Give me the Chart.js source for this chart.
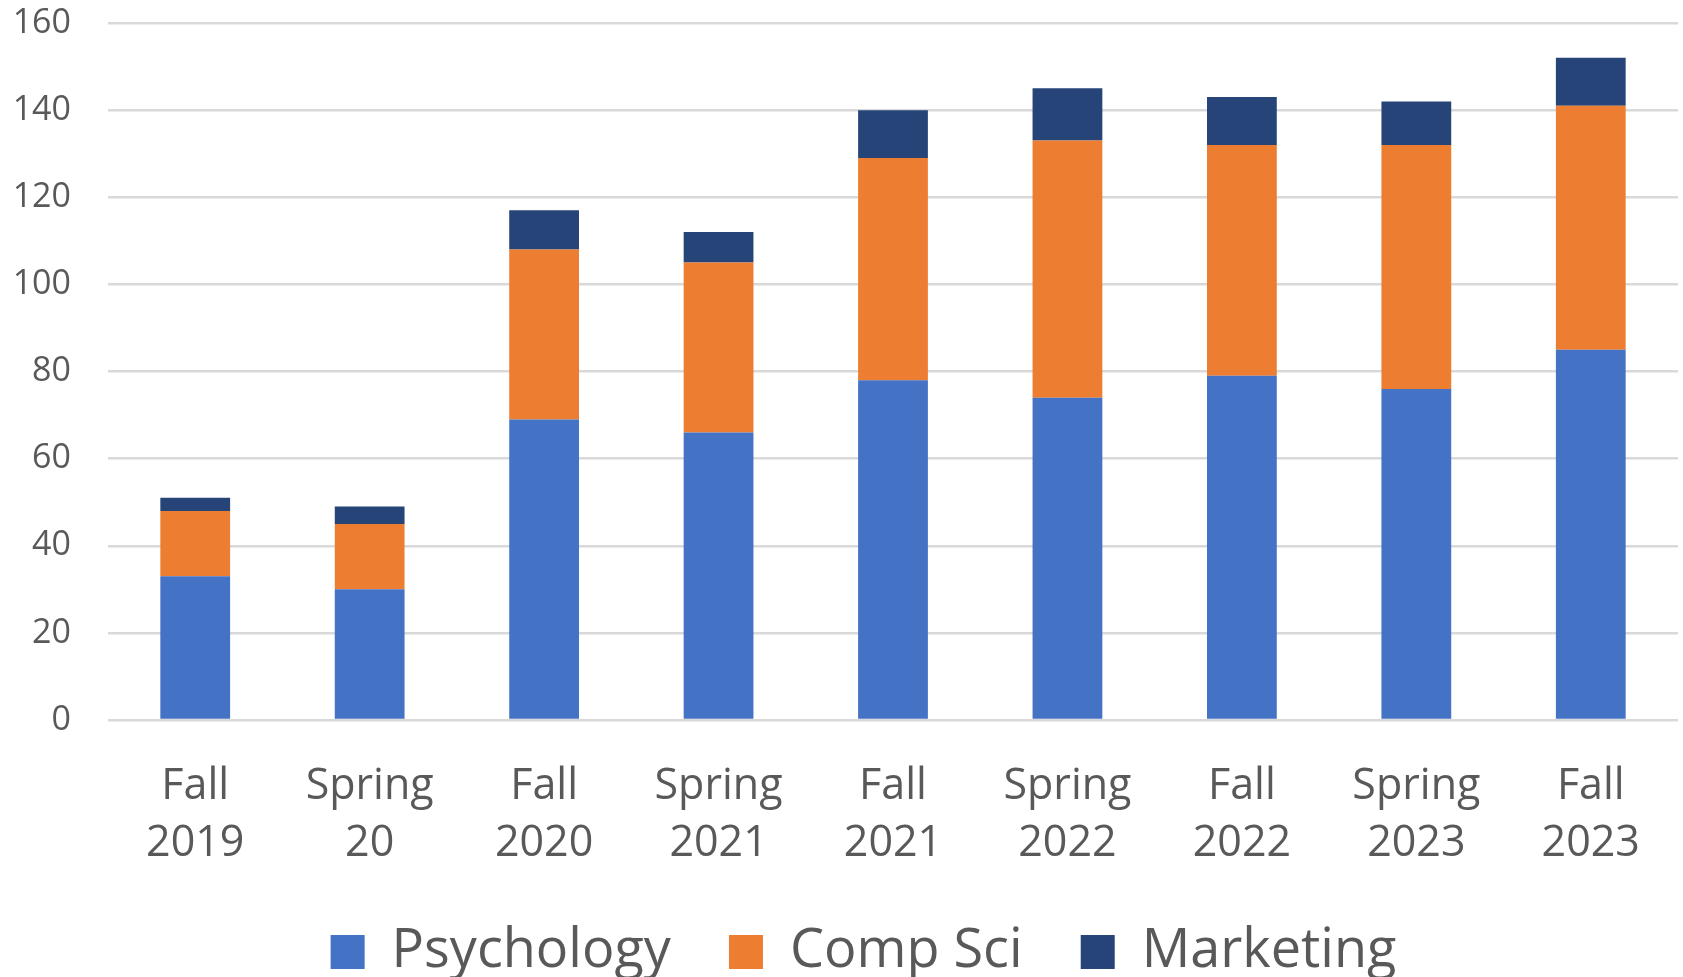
<!DOCTYPE html>
<html>
<head>
<meta charset="utf-8">
<script src="https://cdn.jsdelivr.net/npm/chart.js@4"></script>
<style>
  html, body { margin: 0; padding: 0; background: #fff; }
  #wrap { width: 1683px; height: 977px; }
</style>
</head>
<body>
<div id="wrap"><canvas id="enrollChart"></canvas></div>
<script>
  const terms = [
    ['Fall', '2019'], ['Spring', '20'], ['Fall', '2020'], ['Spring', '2021'],
    ['Fall', '2021'], ['Spring', '2022'], ['Fall', '2022'], ['Spring', '2023'], ['Fall', '2023']
  ];
  const psychology = [33, 30, 69, 66, 78, 74, 79, 76, 85];
  const compSci = [15, 15, 39, 39, 51, 59, 53, 56, 56];
  const marketing = [3, 4, 9, 7, 11, 12, 11, 10, 11];

  const labelColor = '#595959';
  const gridColor = '#d9d9d9';
  // extra gap after each legend entry (spaces), Excel spreads them wider than Chart.js
  const legendGaps = [4, 4, 0];

  Chart.defaults.font.family = '"Open Sans", sans-serif';

  // stop the axes from reserving extra room above/below the plot
  function noPadV(scale) {
    scale.paddingTop = 0;
    scale.paddingBottom = 0;
  }

  // legend sits a bit right of the canvas centre in the original
  const legendShift = {
    id: 'legendShift',
    afterLayout(chart) {
      chart.legend.left += 36;
    }
  };

  const ctx = document.getElementById('enrollChart').getContext('2d');
  new Chart(ctx, {
    type: 'bar',
    data: {
      labels: terms,
      datasets: [
        { label: 'Psychology', data: psychology, backgroundColor: '#4472C4' },
        { label: 'Comp Sci', data: compSci, backgroundColor: '#ED7D31' },
        { label: 'Marketing', data: marketing, backgroundColor: '#264478' }
      ]
    },
    options: {
      responsive: true,
      maintainAspectRatio: false,
      animation: false,
      datasets: {
        bar: { categoryPercentage: 1, barPercentage: 0.4, borderWidth: 0 }
      },
      layout: { padding: { top: 23, right: 5, left: 13, bottom: -12 } },
      plugins: {
        legend: {
          position: 'bottom',
          labels: {
            color: labelColor,
            font: { size: 54, lineHeight: 1 },
            boxWidth: 34,
            boxHeight: 34,
            padding: 2,
            generateLabels: function(chart) {
              const items = Chart.defaults.plugins.legend.labels.generateLabels(chart);
              items.forEach((item, i) => { item.text += ' '.repeat(legendGaps[i]); });
              return items;
            }
          }
        },
        tooltip: { enabled: false }
      },
      scales: {
        x: {
          stacked: true,
          grid: { display: false },
          border: { display: false },
          ticks: {
            color: labelColor,
            font: { size: 43, lineHeight: 1.33 },
            padding: 30,
            maxRotation: 0,
            autoSkip: false
          },
          afterFit: function(scale) { scale.height = 203; noPadV(scale); }
        },
        y: {
          stacked: true,
          min: 0,
          max: 160,
          grid: { color: gridColor, lineWidth: 2.5, drawTicks: false },
          border: { display: false },
          ticks: {
            stepSize: 20,
            color: labelColor,
            font: { size: 34 },
            padding: 37
          },
          afterFit: function(scale) { scale.width = 95; noPadV(scale); }
        }
      }
    },
    plugins: [legendShift]
  });
</script>
</body>
</html>
